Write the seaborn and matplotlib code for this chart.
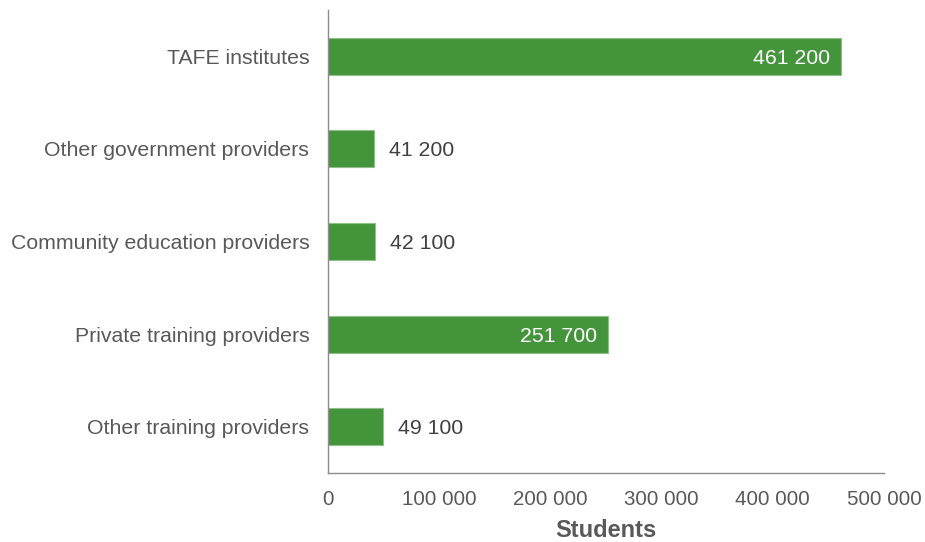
import matplotlib
matplotlib.use("Agg")
import matplotlib.pyplot as plt
import seaborn as sns
import pandas as pd

providers = [
    "TAFE institutes",
    "Other government providers",
    "Community education providers",
    "Private training providers",
    "Other training providers",
]
students = [461200, 41200, 42100, 251700, 49100]
xticks = [0, 100000, 200000, 300000, 400000, 500000]

df = pd.DataFrame({"provider": providers, "students": students})

sns.set_theme(style="white")
plt.rcParams["font.family"] = ["Liberation Sans", "DejaVu Sans"]

GREEN = "#43943b"
TEXT = "#595959"
AXIS = "#8c8c8c"
FS = 15.3

def fmt(v):
    return f"{v:,}".replace(",", " ")

fig = plt.figure(figsize=(9.25, 5.42), dpi=100)
ax = fig.add_axes([0.3546, 0.1273, 0.6011, 0.8542])

sns.barplot(data=df, x="students", y="provider", orient="h", color=GREEN,
            width=0.4, saturation=1, edgecolor="#8fc08a", linewidth=0.8, ax=ax)

ax.set_xlim(0, 500000)
ax.set_ylim(4.5, -0.5)
ax.set_xticks(xticks)
ax.set_xticklabels([fmt(t) for t in xticks], fontsize=FS - 0.5, color=TEXT)
ax.tick_params(axis="x", direction="out", length=5, width=1, color=AXIS, pad=7)
ax.tick_params(axis="y", length=0, pad=13.5, labelsize=FS, labelcolor=TEXT)
for lbl in ax.get_yticklabels():
    lbl.set_verticalalignment("center_baseline")
ax.set_ylabel("")
ax.set_xlabel("Students", fontsize=17, fontweight="bold", color=TEXT, labelpad=7.5)

for s in ("top", "right"):
    ax.spines[s].set_visible(False)
for s in ("left", "bottom"):
    ax.spines[s].set_color(AXIS)
    ax.spines[s].set_linewidth(1)

for i, v in enumerate(students):
    if v > 150000:
        ax.annotate(fmt(v), (v, i), xytext=(-8, 0), textcoords="offset points",
                    ha="right", va="center_baseline", color="white", fontsize=FS)
    else:
        ax.annotate(fmt(v), (v, i), xytext=(11, 0), textcoords="offset points",
                    ha="left", va="center_baseline", color="#404040", fontsize=FS)

fig.savefig("out.png", dpi=100)
